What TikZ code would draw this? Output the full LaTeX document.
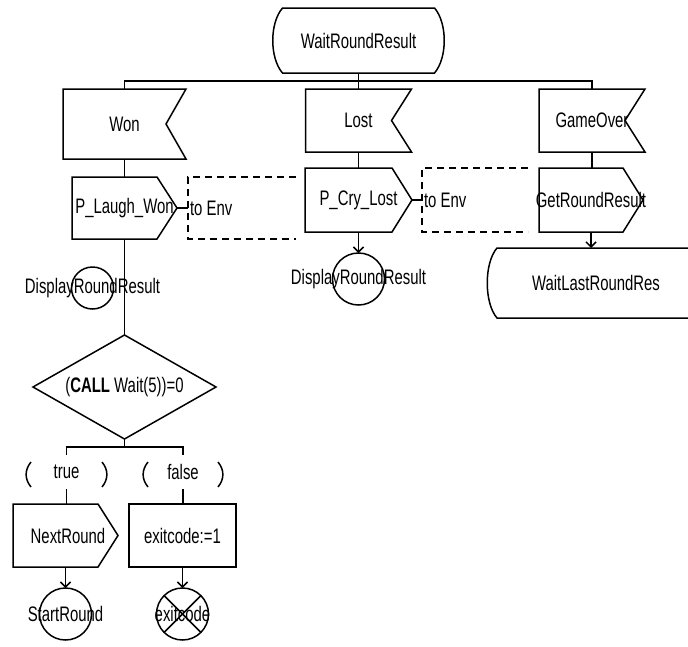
\documentclass[tikz,border=0pt]{standalone}
\usepackage{fontspec}
\setmainfont{Liberation Sans}[FakeStretch=0.71]
\usetikzlibrary{arrows.meta,calc}

% SDL symbol outlines, drawn around invisible placeholder nodes
\newcommand\sdlStateOutline[1]{%
  \draw ($(#1.north west)+(10,0)$) -- ($(#1.north east)+(-10,0)$)
    .. controls ($(#1.north east)+(3,15)$) and ($(#1.south east)+(3,-15)$)
    .. ($(#1.south east)+(-10,0)$)
    -- ($(#1.south west)+(10,0)$)
    .. controls ($(#1.south west)+(-3,-15)$) and ($(#1.north west)+(-3,15)$)
    .. ($(#1.north west)+(10,0)$) -- cycle;}
\newcommand\sdlInputOutline[1]{%
  \draw (#1.north west) -- (#1.north east) -- ($(#1.east)+(-20,0)$)
    -- (#1.south east) -- (#1.south west) -- cycle;}
\newcommand\sdlOutputOutline[1]{%
  \draw (#1.north west) -- ($(#1.north east)+(-20,0)$) -- (#1.east)
    -- ($(#1.south east)+(-20,0)$) -- (#1.south west) -- cycle;}
\newcommand\sdlEnvOutline[1]{%
  \draw[envline] (#1.north east) -- (#1.north west) -- (#1.south west) -- (#1.south east);}
\newcommand\sdlParens[1]{%
  \draw ($(#1.north west)+(5,7)$) .. controls ($(#1.north west)+(-1.5,15)$)
    and ($(#1.south west)+(-1.5,-10)$) .. ($(#1.south west)+(5,-2)$);
  \draw ($(#1.north east)+(-5,7)$) .. controls ($(#1.north east)+(1.5,15)$)
    and ($(#1.south east)+(1.5,-10)$) .. ($(#1.south east)+(-5,-2)$);}
\newcommand\ctr[1]{\makebox[0pt]{#1}}

\begin{document}
\begin{tikzpicture}[x=1pt,y=-1pt,
  font=\fontsize{21}{25}\selectfont,
  line width=1.5pt,
  every node/.style={inner sep=0pt, outer sep=0pt},
  symbox/.style={shape=rectangle},
  taskbox/.style={shape=rectangle, draw},
  conn/.style={shape=circle, draw},
  envline/.style={dash pattern=on 7pt off 5pt},
  flow/.style={-{Straight Barb[length=5pt,width=10pt]}}]

\useasboundingbox (0,0) rectangle (688,646);

% start state and its three input signals
\node[symbox, minimum width=172, minimum height=65] (wrr) at (358.5,40.5) {\ctr{WaitRoundResult}};
\sdlStateOutline{wrr}
\coordinate (topbus) at (358.5,81);

\node[symbox, minimum width=123, minimum height=70] (won) at (124.5,124) {\ctr{Won}};
\sdlInputOutline{won}
\node[symbox, minimum width=106, minimum height=63] (lost) at (358.5,120.5) {\ctr{Lost}};
\sdlInputOutline{lost}
\node[symbox, minimum width=106, minimum height=63] (gameover) at (592,120.5) {\ctr{GameOver}};
\sdlInputOutline{gameover}

\draw (wrr.south) -- (topbus);
\draw (won.north) |- (topbus) -| (gameover.north);
\draw (topbus) -- (lost.north);

% outputs to the environment
\node[symbox, minimum width=105, minimum height=62] (plaugh) at (124.5,208) {\ctr{P\_Laugh\_Won}};
\sdlOutputOutline{plaugh}
\node[symbox, minimum width=108, minimum height=62, anchor=west] (env1) at (188,208) {};
\sdlEnvOutline{env1}
\node[anchor=west] (env1txt) at (190,208) {to Env};

\node[symbox, minimum width=107, minimum height=64] (pcry) at (358.5,200) {\ctr{P\_Cry\_Lost}};
\sdlOutputOutline{pcry}
\node[symbox, minimum width=106, minimum height=64, anchor=west] (env2) at (422,200) {};
\sdlEnvOutline{env2}
\node[anchor=west] (env2txt) at (424,200) {to Env};

\node[symbox, minimum width=104, minimum height=64] (getr) at (591,200) {\ctr{GetRoundResult}};
\sdlOutputOutline{getr}

\draw (won.south) -- (plaugh.north);
\draw (lost.south) -- (pcry.north);
\draw (gameover.south) -- (gameover.south |- getr.north);
\draw (plaugh.east) -- (env1.west);
\draw (pcry.east) -- (env2.west);

% next states and connectors
\node[symbox, minimum width=218, minimum height=70] (wlr) at (596,283) {\ctr{WaitLastRoundRes}};
\sdlStateOutline{wlr}
\draw[flow] (getr.south) -- (getr.south |- wlr.north);

\node[conn, minimum size=52] (disp2) at (358.5,279) {\ctr{DisplayRoundResult}};
\draw[flow] (pcry.south) -- (disp2.north);

\node[conn, minimum size=42] (disp1) at (92.5,288) {\ctr{DisplayRoundResult}};

% decision
\node[symbox, minimum width=183, minimum height=104] (dec) at (124.5,387) {\ctr{(\textbf{CALL} Wait(5))=0}};
\draw (dec.north) -- (dec.east) -- (dec.south) -- (dec.west) -- cycle;
\draw (plaugh.south) -- (plaugh.south |- dec.north);
\coordinate (decbus) at (124.5,447);

\node[symbox, minimum width=81, minimum height=34] (truelbl) at (66.5,472) {\ctr{true}};
\sdlParens{truelbl}
\node[symbox, minimum width=80, minimum height=34] (falselbl) at (183,472) {\ctr{false}};
\sdlParens{falselbl}

\draw (dec.south) -- (decbus);
\draw (truelbl.north) |- (decbus) -| (falselbl.north);

% branches
\node[symbox, minimum width=105, minimum height=63] (nextr) at (65.5,535.5) {\ctr{\hspace{5pt}NextRound}};
\sdlOutputOutline{nextr}
\node[taskbox, minimum width=107, minimum height=63] (exitb) at (182.5,535.5) {\ctr{exitcode:=1}};

\draw (truelbl.south) -- (truelbl.south |- nextr.north);
\draw (falselbl.south) -- (falselbl.south |- exitb.north);

\node[conn, minimum size=52] (startr) at (65.5,614) {\ctr{StartRound}};
\node[conn, minimum size=52] (exitc) at (182.5,614) {};
\draw (exitc.north west) -- (exitc.south east);
\draw (exitc.north east) -- (exitc.south west);
\node (exitctxt) at (exitc) {\ctr{exitcode}};

\draw[flow] (nextr.south) -- (nextr.south |- startr.north);
\draw[flow] (exitb.south) -- (exitc.north);

\end{tikzpicture}
\end{document}
